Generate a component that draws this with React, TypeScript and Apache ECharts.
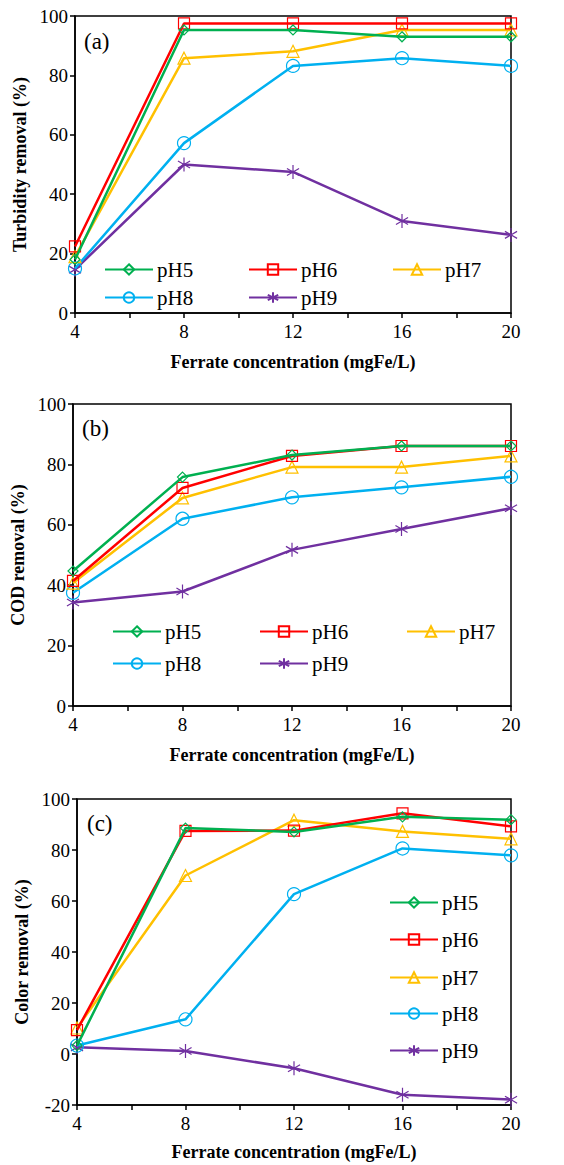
import React, { useEffect, useRef } from "react";
import * as echarts from "echarts";

// Ferrate dose (mgFe/L) on the x axis
const doses = [4, 8, 12, 16, 20];
const phNames = ["pH5", "pH6", "pH7", "pH8", "pH9"];
const phColors = ["#00B050", "#FF0000", "#FFC000", "#00B0F0", "#7030A0"];

// (a) Turbidity removal (%)
const turbidityPH5 = [18, 95.3, 95.3, 93, 93];
const turbidityPH6 = [22.4, 97.5, 97.5, 97.5, 97.5];
const turbidityPH7 = [19, 85.8, 88.1, 95.3, 95.3];
const turbidityPH8 = [15, 57.2, 83.2, 85.8, 83.2];
const turbidityPH9 = [14.6, 50, 47.5, 31, 26.3];

// (b) COD removal (%)
const codPH5 = [44.7, 75.8, 83.1, 86.1, 86.1];
const codPH6 = [41.4, 72.2, 82.8, 86.1, 86.1];
const codPH7 = [40.7, 68.9, 79.1, 79.1, 82.8];
const codPH8 = [37.5, 62, 69.1, 72.4, 75.9];
const codPH9 = [34.3, 37.9, 51.7, 58.6, 65.5];

// (c) Color removal (%)
const colorPH5 = [3.3, 88.6, 87.1, 93, 91.9];
const colorPH6 = [9.4, 87.5, 87.6, 94.4, 89.3];
const colorPH7 = [10.2, 70, 91.7, 87.3, 84.4];
const colorPH8 = [3.3, 13.6, 62.7, 80.6, 77.9];
const colorPH9 = [2.6, 1.2, -5.6, -16, -17.9];

const panels = [
  {
    tag: "(a)",
    yTitle: "Turbidity removal (%)",
    yMin: 0,
    yMax: 100,
    values: [turbidityPH5, turbidityPH6, turbidityPH7, turbidityPH8, turbidityPH9],
  },
  {
    tag: "(b)",
    yTitle: "COD removal (%)",
    yMin: 0,
    yMax: 100,
    values: [codPH5, codPH6, codPH7, codPH8, codPH9],
  },
  {
    tag: "(c)",
    yTitle: "Color removal (%)",
    yMin: -20,
    yMax: 100,
    values: [colorPH5, colorPH6, colorPH7, colorPH8, colorPH9],
  },
];

const FONT = "Times New Roman, serif";

// asterisk marker: vertical stroke plus two diagonals
const STAR = "path://M0,-10L0,10M-8.66,-5L8.66,5M-8.66,5L8.66,-5";
const symbols = ["diamond", "rect", "triangle", "circle", STAR];
const symbolSizes = [10, 11, 12, 13, 14];

// plot-area boxes for the three panels
const grids = [
  { left: 75, top: 16, width: 436, height: 297 },
  { left: 73, top: 404, width: 438, height: 302 },
  { left: 77, top: 799, width: 434, height: 306 },
];

// legend entry anchors [x, centre-y] per panel
const legendSpots = [
  [[104, 269], [248, 269], [392, 269], [104, 297], [248, 297]],
  [[112, 631], [259, 631], [406, 631], [112, 663], [259, 663]],
  [[389, 902], [389, 939], [389, 977], [389, 1013], [389, 1050]],
];

export default function App() {
  const ref = useRef<HTMLDivElement>(null);

  useEffect(() => {
    if (!ref.current) return;
    const chart = echarts.init(ref.current, null, { renderer: "svg" });

    const grid = grids.map((g) => ({
      ...g,
      show: true,
      borderColor: "#000",
      borderWidth: 1.5,
      backgroundColor: "transparent",
    }));

    const xAxis = panels.map((_, i) => ({
      type: "value",
      gridIndex: i,
      min: 4,
      max: 20,
      interval: 2,
      name: "Ferrate concentration (mgFe/L)",
      nameLocation: "middle",
      nameGap: i === 2 ? 38 : 40,
      nameTextStyle: { fontFamily: FONT, fontSize: 18, fontWeight: "bold", color: "#000" },
      axisLine: { show: true, onZero: false, lineStyle: { color: "#000", width: 1.5 } },
      axisTick: { show: true, inside: false, length: 5, lineStyle: { color: "#000", width: 1.5 } },
      splitLine: { show: false },
      axisLabel: {
        fontFamily: FONT,
        fontSize: 19,
        color: "#000",
        margin: 9,
        formatter: (v: number) => ((v - 4) % 4 === 0 ? String(v) : ""),
      },
    }));

    const yAxis = panels.map((p, i) => ({
      type: "value",
      gridIndex: i,
      min: p.yMin,
      max: p.yMax,
      interval: 20,
      name: p.yTitle,
      nameLocation: "middle",
      nameGap: [44, 42, 46][i],
      nameTextStyle: { fontFamily: FONT, fontSize: 18, fontWeight: "bold", color: "#000" },
      axisLine: { show: true, onZero: false, lineStyle: { color: "#000", width: 1.5 } },
      axisTick: { show: true, inside: false, length: 5, lineStyle: { color: "#000", width: 1.5 } },
      splitLine: { show: false },
      axisLabel: { fontFamily: FONT, fontSize: 19, color: "#000", margin: 7 },
    }));

    const series: any[] = [];
    panels.forEach((p, pi) => {
      p.values.forEach((vals, si) => {
        series.push({
          type: "line",
          name: phNames[si],
          xAxisIndex: pi,
          yAxisIndex: pi,
          data: doses.map((d, k) => [d, vals[k]]),
          symbol: symbols[si],
          symbolSize: symbolSizes[si],
          symbolKeepAspect: true,
          showAllSymbol: true,
          lineStyle: { color: phColors[si], width: 2.5 },
          itemStyle: {
            color: "rgba(0,0,0,0)",
            borderColor: phColors[si],
            borderWidth: 1.2,
          },
          emphasis: { disabled: true },
          z: 2 + (4 - si),
        });
      });
    });

    const legend: any[] = [];
    legendSpots.forEach((spots) => {
      spots.forEach(([x, y], si) => {
        legend.push({
          data: [phNames[si]],
          left: x,
          top: y - 10,
          padding: 0,
          itemWidth: 48,
          itemHeight: 13,
          selectedMode: false,
          textStyle: { fontFamily: FONT, fontSize: 21, color: "#000", padding: [0, 0, 0, -1] },
        });
      });
    });

    const title = panels.map((p, i) => ({
      text: p.tag,
      left: [84, 82, 87][i],
      top: [30, 417, 812][i],
      padding: 0,
      textStyle: { fontFamily: FONT, fontSize: 23, fontWeight: "normal", color: "#000" },
    }));

    chart.setOption({
      animation: false,
      backgroundColor: "#fff",
      textStyle: { fontFamily: FONT },
      title,
      grid,
      xAxis,
      yAxis,
      legend,
      series,
    });

    return () => chart.dispose();
  }, []);

  return (
    <div
      ref={ref}
      style={{ position: "absolute", left: 0, top: 0, width: 564, height: 1165 }}
    />
  );
}
